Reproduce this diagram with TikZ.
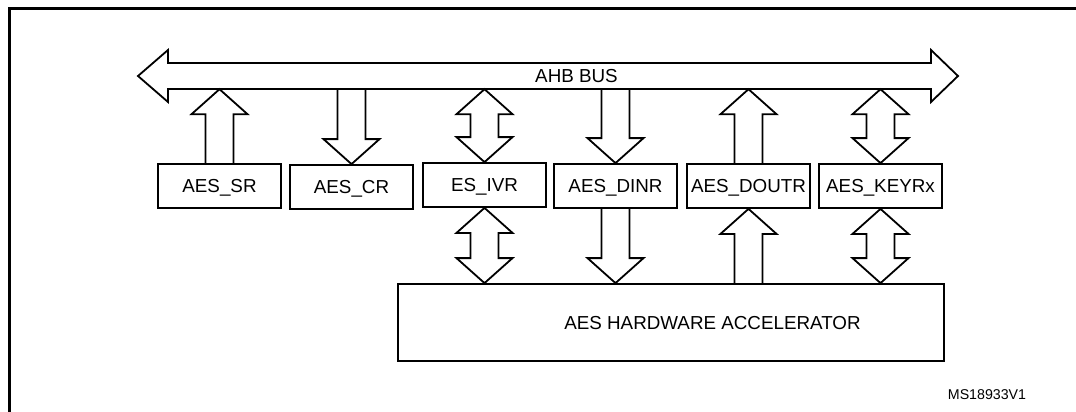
\documentclass[tikz,border=0pt]{standalone}
\usepackage{fontspec}
\setmainfont{Liberation Sans}
\usetikzlibrary{calc}
\tikzset{
  reg/.style={draw, line width=1.8pt, minimum width=123pt, minimum height=44pt, inner sep=0pt,
              text height=13.5pt, text depth=0pt, font=\fontsize{18.8}{22}\selectfont},
  barrow/.style={draw, line width=1.8pt, line join=miter},
  lbl/.style={inner sep=0pt, text height=13.5pt, text depth=0pt, font=\fontsize{18.8}{22}\selectfont},
}
% up arrow: #1 lower anchor (gives x and bottom y), #2 gives top y
\newcommand\UpArr[2]{\draw[barrow] let \p1=(#1), \p2=(#2) in
  ({\x1-14pt},\y1) -- ({\x1-14pt},{\y2-25pt}) -- ({\x1-28pt},{\y2-25pt}) -- (\x1,\y2)
  -- ({\x1+28pt},{\y2-25pt}) -- ({\x1+14pt},{\y2-25pt}) -- ({\x1+14pt},\y1);}
% down arrow: #1 gives top y, #2 lower anchor (gives x and tip y)
\newcommand\DownArr[2]{\draw[barrow] let \p1=(#1), \p2=(#2) in
  ({\x2-14pt},\y1) -- ({\x2-14pt},{\y2+25pt}) -- ({\x2-28pt},{\y2+25pt}) -- (\x2,\y2)
  -- ({\x2+28pt},{\y2+25pt}) -- ({\x2+14pt},{\y2+25pt}) -- ({\x2+14pt},\y1);}
% double arrow: #1 lower anchor (x and lower tip), #2 gives upper tip y
\newcommand\DblArr[2]{\draw[barrow] let \p1=(#1), \p2=(#2) in
  (\x1,\y1) -- ({\x1+28pt},{\y1+25pt}) -- ({\x1+14pt},{\y1+25pt}) -- ({\x1+14pt},{\y2-25pt})
  -- ({\x1+28pt},{\y2-25pt}) -- (\x1,\y2) -- ({\x1-28pt},{\y2-25pt}) -- ({\x1-14pt},{\y2-25pt})
  -- ({\x1-14pt},{\y1+25pt}) -- ({\x1-28pt},{\y1+25pt}) -- cycle;}
\begin{document}
\begin{tikzpicture}[x=1pt,y=-1pt]
\useasboundingbox (0,0) rectangle (1076,412);
\clip (0,0) rectangle (1076,412);
% frame
\draw[line width=3pt] (9.5,440) -- (9.5,9) -- (1100,9);
% bus
\draw[barrow] (138,76) -- (168,50) -- (168,63) -- (931,63) -- (931,50) -- (958,76)
  -- (931,102) -- (931,89) -- (168,89) -- (168,102) -- cycle;
\node[minimum width=820pt, minimum height=26pt, inner sep=0pt] (bus) at (548,76) {};
\node[lbl] (buslbl) at (576.5,76) {AHB BUS};
% registers
\node[reg] (sr)    at (219.5,186) {AES\_SR};
\node[reg] (cr)    at (351.5,187) {AES\_CR};
\node[reg] (ivr)   at (484.5,185) {ES\_IVR};
\node[reg] (dinr)  at (615.5,186) {AES\_DINR};
\node[reg] (doutr) at (748.5,186) {AES\_DOUTR};
\node[reg] (keyr)  at (880.5,186) {AES\_KEYRx};
% accelerator
\node[draw, line width=1.8pt, minimum width=546pt, minimum height=77pt, inner sep=0pt] (acc) at (671,322.5) {};
\node[lbl] (acclbl) at (712.5,323) {AES HARDWARE ACCELERATOR};
% bus <-> registers
\UpArr{sr.north}{bus.south}
\DownArr{bus.south}{cr.north}
\DblArr{ivr.north}{bus.south}
\DownArr{bus.south}{dinr.north}
\UpArr{doutr.north}{bus.south}
\DblArr{keyr.north}{bus.south}
% registers <-> accelerator
\DblArr{ivr.south |- acc.north}{ivr.south}
\DownArr{dinr.south}{dinr.south |- acc.north}
\UpArr{doutr.south |- acc.north}{doutr.south}
\DblArr{keyr.south |- acc.north}{keyr.south}
% code
\node[inner sep=0pt, font=\fontsize{14.2}{17}\selectfont] (code) at (987,395) {MS18933V1};
\end{tikzpicture}
\end{document}
